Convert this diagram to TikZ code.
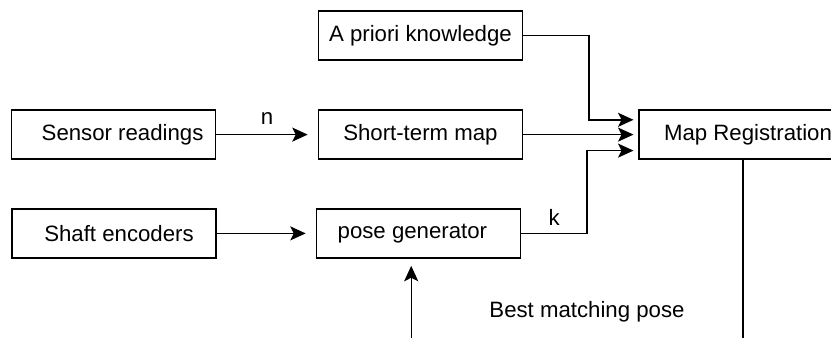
\documentclass[tikz,border=0pt]{standalone}
\usepackage{fontspec}
\setmainfont{Liberation Sans}
\usetikzlibrary{arrows.meta}

\begin{document}
\begin{tikzpicture}[font=\fontsize{15.8}{18}\selectfont,
	block/.style={draw, line width=1pt, minimum width=5.1cm, minimum height=1.225cm, inner sep=0pt},
	flow/.style={line width=1pt, -{Stealth[length=11pt, width=10pt, inset=2.5pt]}}]
	\useasboundingbox (0,0) rectangle (20.775,8.425);
	\clip (0,0) rectangle (20.775,8.425);
	\node[block] (sensor) at (2.84,5.06) {\hspace*{0.45cm}Sensor readings};
	\node[block] (shaft) at (2.85,2.59) {\hspace*{0.25cm}Shaft encoders};
	\node[block] (apriori) at (10.51,7.54) {A priori knowledge};
	\node[block] (stmap) at (10.51,5.06) {Short-term map};
	\node[block] (posegen) at (10.46,2.59) {pose generator\hspace*{0.3cm}};
	\node[block, minimum width=5.45cm] (mapreg) at (18.7,5.06) {Map Registration};
	\coordinate (loop) at (0,-0.3);
	% inputs
	\draw[flow, shorten >=0.25cm] (sensor.east) -- node[above=3pt] {n} (stmap.west);
	\draw[flow, shorten >=0.25cm] (shaft.east) -- (posegen.west);
	% into the registration
	\draw[flow, shorten >=0.12cm] (apriori.east) -- ++(1.65,0) |- ([yshift=0.37cm]mapreg.west);
	\draw[flow, shorten >=0.12cm] (stmap.east) -- (mapreg.west);
	\draw[flow, shorten >=0.12cm] (posegen.east) -- node[above=2pt] {k} ++(1.65,0) |- ([yshift=-0.4cm]mapreg.west);
	% feedback
	\draw[flow, shorten >=0.18cm] ([xshift=-0.13cm]mapreg.south) -- ([xshift=-0.13cm]mapreg.south |- loop)
		-- node[above=0.55cm, xshift=0.25cm] {Best matching pose} ([xshift=-0.18cm]posegen.south |- loop)
		-- ([xshift=-0.18cm]posegen.south);
\end{tikzpicture}
\end{document}
